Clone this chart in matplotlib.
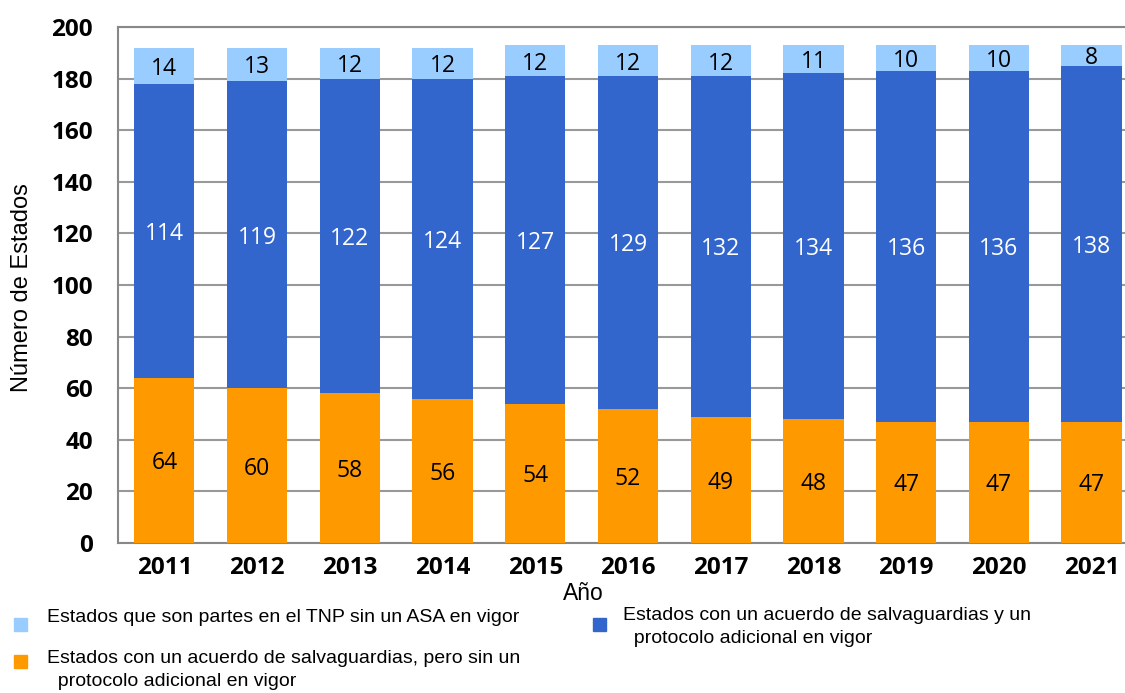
import matplotlib.pyplot as plt
import numpy as np

years = ['2011', '2012', '2013', '2014', '2015', '2016', '2017', '2018', '2019', '2020', '2021']
sin_pa = [64, 60, 58, 56, 54, 52, 49, 48, 47, 47, 47]
con_pa = [114, 119, 122, 124, 127, 129, 132, 134, 136, 136, 138]
sin_asa = [14, 13, 12, 12, 12, 12, 12, 11, 10, 10, 8]

legend_labels = [
    'Estados que son partes en el TNP sin un ASA en vigor',
    'Estados con un acuerdo de salvaguardias, pero sin un\n  protocolo adicional en vigor',
    'Estados con un acuerdo de salvaguardias y un\n  protocolo adicional en vigor',
]

c_orange = '#FF9900'
c_blue = '#3366CC'
c_light = '#99CCFF'

fig = plt.figure(figsize=(11.25, 6.93), dpi=100)
ax = fig.add_axes([118 / 1125, 1 - 543 / 693, 1 - 118 / 1125, 516 / 693])

x = np.arange(len(years))
w = 0.65
ax.bar(x, sin_pa, w, color=c_orange, zorder=3)
ax.bar(x, con_pa, w, bottom=sin_pa, color=c_blue, zorder=3)
bottom3 = np.array(sin_pa) + np.array(con_pa)
ax.bar(x, sin_asa, w, bottom=bottom3, color=c_light, zorder=3)

lab_font = dict(family='Open Sans', fontsize=16.5, ha='center', va='center_baseline', zorder=4)
for i in range(len(years)):
    ax.text(x[i], sin_pa[i] / 2, str(sin_pa[i]), color='black', **lab_font)
    ax.text(x[i], sin_pa[i] + con_pa[i] / 2, str(con_pa[i]), color='white', **lab_font)
    ax.text(x[i], bottom3[i] + sin_asa[i] / 2, str(sin_asa[i]), color='black', **lab_font)

ax.set_xlim(-0.5, 10.36)
ax.set_ylim(0, 200)
ax.set_yticks(range(0, 201, 20))
ax.set_xticks(x)
ax.set_xticklabels(years)
for t in ax.get_xticklabels() + ax.get_yticklabels():
    t.set_fontfamily('Open Sans')
    t.set_fontweight('bold')
    t.set_fontsize(17.5)
ax.tick_params(axis='both', length=0)
ax.tick_params(axis='x', pad=9)
ax.tick_params(axis='y', pad=18)
ax.yaxis.grid(True, color='#999999', linewidth=1.5, zorder=0)
for s in ['left', 'bottom', 'top']:
    ax.spines[s].set_color('#888888')
    ax.spines[s].set_linewidth(1.5)
ax.spines['right'].set_visible(False)

fig.text(22 / 1125, 1 - 288 / 693, 'Número de Estados', family='Liberation Sans', fontsize=17,
         rotation=90, ha='center', va='center')
fig.text(583 / 1125, 1 - 593 / 693, 'Año', family='Liberation Sans', fontsize=16.5, ha='center', va='center')

# legend drawn by hand
leg_font = dict(family='Liberation Sans', fontsize=14, va='center', ha='left', linespacing=1.45)
def square(px, py, color):
    fig.patches.append(plt.Rectangle((px / 1125, 1 - py / 693), 13 / 1125, 13 / 693,
                                     transform=fig.transFigure, color=color))

square(14, 631, c_light)
fig.text(47 / 1125, 1 - 617 / 693, legend_labels[0], **leg_font)
square(14, 668, c_orange)
fig.text(47 / 1125, 1 - 670 / 693, legend_labels[1], **leg_font)
square(593, 631, c_blue)
fig.text(623 / 1125, 1 - 627 / 693, legend_labels[2], **leg_font)

fig.savefig('out.png', dpi=100)
